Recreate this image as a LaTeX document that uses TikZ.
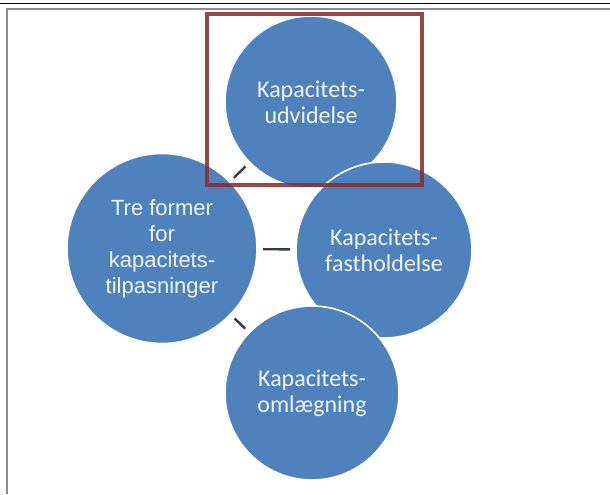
\documentclass[tikz,border=0pt]{standalone}
\usepackage{fontspec}
\setmainfont{Carlito}
\newfontfamily\arialfont{Liberation Sans}
\definecolor{cfill}{RGB}{79,129,189}
\definecolor{ctext}{RGB}{238,245,250}
\definecolor{rectred}{RGB}{135,45,45}
\definecolor{linegray}{RGB}{140,140,140}
\definecolor{conn}{RGB}{55,60,68}
\begin{document}
\begin{tikzpicture}[x=0.75pt,y=-0.75pt,
  bub/.style={circle, fill=cfill, draw=white, line width=1.2pt, inner sep=0pt,
    text=ctext, align=center, font=\fontsize{18}{19.5}\selectfont},
  link/.style={draw=conn, line width=1.8pt, shorten <=3.75pt, shorten >=3.75pt}]
\useasboundingbox (0,0) rectangle (610,494);
% frame
\draw[black, line width=1pt] (0,3.3) -- (610,3.3);
\draw[linegray, line width=1.5pt] (6.5,494) -- (6.5,8.5) -- (610,8.5);
% circles
\node[bub, minimum size=129pt] (top) at (311,102) {Kapacitets-\\udvidelse};
\node[bub, minimum size=132pt] (right) at (384,250) {Kapacitets-\\fastholdelse};
\node[bub, minimum size=130.5pt] (bottom) at (312,393) {Kapacitets-\\omlægning};
\node[bub, minimum size=142.5pt, font=\arialfont\fontsize{16.5}{19.5}\selectfont] (left) at (162,248.5) {Tre former\\for\\kapacitets-\\tilpasninger};
% connectors
\draw[link] (left) -- (top);
\draw[link] (left) -- (right);
\draw[link] (left) -- (bottom);
% highlight rectangle
\draw[rectred, line width=3pt, opacity=0.88] (206.5,13.5) rectangle (421.5,184.5);
\end{tikzpicture}
\end{document}
